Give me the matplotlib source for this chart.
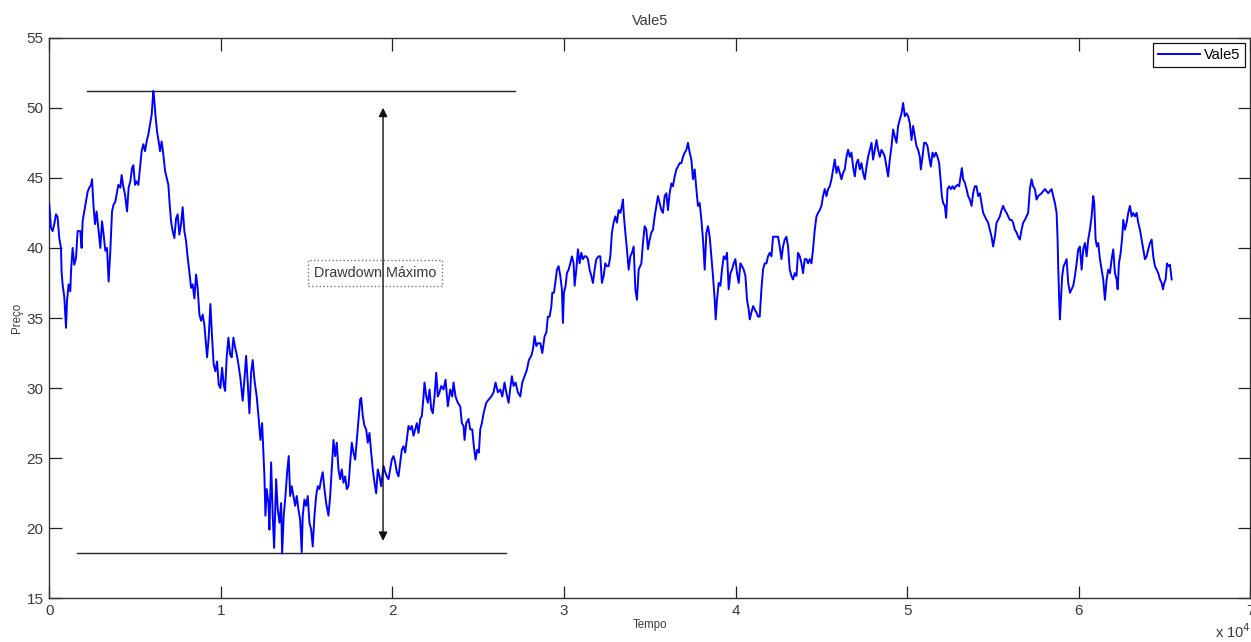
import numpy as np
import matplotlib
matplotlib.use('Agg')
import matplotlib.pyplot as plt

# Dados: preco da Vale5 ao longo do tempo (amostras)
tempo = [
    0, 99, 192, 292, 391, 484, 583, 682, 717, 776, 875, 974, 1032, 1125, 1225, 1265,
    1359, 1458, 1557, 1650, 1808, 1883, 1942, 2041, 2140, 2233, 2332, 2432, 2490, 2583,
    2665, 2758, 2875, 2974, 3073, 3166, 3265, 3364, 3458, 3557, 3656, 3749, 3848, 3948,
    4023, 4140, 4216, 4297, 4414, 4531, 4624, 4723, 4822, 4898, 4997, 5091, 5190, 5289,
    5382, 5481, 5580, 5674, 5773, 5872, 5965, 6023, 6064, 6123, 6198, 6280, 6373, 6455,
    6548, 6647, 6746, 6840, 6939, 7015, 7096, 7190, 7289, 7388, 7481, 7580, 7679, 7773,
    7872, 7971, 8064, 8163, 8262, 8356, 8455, 8554, 8647, 8747, 8846, 8939, 9038, 9137,
    9196, 9289, 9388, 9487, 9580, 9679, 9779, 9872, 9971, 10070, 10163, 10245, 10338,
    10437, 10537, 10630, 10729, 10828, 10922, 11021, 11137, 11271,
    11370, 11470, 11563, 11662, 11761, 11854, 11954, 12088, 12204, 12303, 12403, 12478,
    12537, 12595, 12671, 12770, 12828, 12927, 13020, 13102, 13219, 13312, 13411, 13510,
    13569, 13662, 13761, 13860, 13954, 14035, 14128, 14228, 14327, 14420, 14519, 14618,
    14712, 14770, 14869, 14968, 15062, 15161, 15260, 15353, 15452, 15551, 15645, 15744,
    15843, 15936, 16035, 16134, 16268, 16368, 16484, 16560, 16659, 16752, 16852, 16951,
    17044, 17143, 17242, 17336, 17435, 17534, 17627, 17726, 17826, 17919, 18018, 18117,
    18175, 18269, 18368, 18467, 18560, 18659, 18758, 18852, 18951, 19050, 19143, 19242,
    19342, 19476, 19575, 19668, 19767, 19866, 19960, 20059, 20158, 20251, 20350, 20450,
    20543, 20642, 20741, 20834, 20933, 21033, 21126, 21225, 21324, 21418, 21517, 21616,
    21709, 21808, 21866, 21966, 22059, 22158, 22257, 22350, 22449, 22549, 22642,
    22741, 22840, 22974, 23091, 23225, 23365, 23481, 23557, 23674, 23808, 23948, 24041,
    24140, 24199, 24298, 24432, 24531, 24648, 24741, 24840, 24939, 25033, 25114, 25208,
    25307, 25464, 25616, 25756, 25890, 26006, 26140, 26280, 26397, 26531, 26630, 26764,
    26881, 26957, 27056, 27172, 27307, 27446, 27563, 27697, 27832, 27948, 28088, 28182,
    28280, 28380, 28473, 28613, 28730, 28863, 28963, 29056, 29155, 29254, 29313, 29406,
    29488, 29581, 29680, 29779, 29873, 29932, 29990, 30088, 30164, 30263, 30362, 30456,
    30554, 30613, 30712, 30806, 30904, 31004, 31097, 31196, 31295, 31389, 31487, 31587,
    31680, 31779, 31878, 32012, 32111, 32205, 32304, 32403, 32496, 32595, 32695, 32788,
    32887, 32986, 33079, 33178, 33278, 33371, 33429, 33488, 33569, 33662, 33762, 33861,
    33954, 34053, 34152, 34246, 34345,
    34503, 34596, 34695, 34794, 34887, 34986, 35086, 35179, 35278, 35377, 35470, 35570,
    35669, 35762, 35861, 35960, 36053, 36152, 36252, 36345, 36444, 36543, 36636, 36735,
    36835, 36928, 37027, 37126, 37219, 37318, 37418, 37511, 37610, 37709, 37802, 37902,
    38001, 38094, 38193, 38292, 38385, 38485, 38584, 38677, 38776, 38834, 38910, 39009,
    39108, 39202, 39301, 39400, 39493, 39592, 39692, 39785, 39884, 39983, 40077, 40176,
    40275, 40368, 40467, 40566, 40660, 40759, 40817, 40916, 41015, 41109, 41208, 41301,
    41400, 41499, 41593, 41692, 41791, 41884, 41983, 42083, 42176, 42275, 42374, 42468,
    42566, 42666, 42759, 42858, 42957, 43051, 43150, 43249, 43342, 43441, 43541, 43634,
    43733, 43832, 43925, 44024, 44124, 44217, 44316, 44415, 44508, 44607, 44707, 44800,
    44899, 44998, 45091, 45190, 45290, 45383, 45482, 45581, 45674, 45773, 45873, 45966,
    46164, 46257, 46356, 46455, 46549, 46648, 46747, 46840, 46940, 47039, 47132, 47231,
    47330, 47424, 47523, 47622, 47715, 47814, 47914, 48007, 48106, 48205, 48298, 48397,
    48497, 48590, 48689, 48788, 48881, 48980, 49080, 49173, 49272, 49371, 49464, 49564,
    49663, 49756, 49855, 49954, 50048, 50147, 50246, 50339, 50438, 50537, 50631, 50730,
    50788, 50887, 50980, 51080, 51179, 51272, 51371, 51470, 51564, 51663, 51762, 51855,
    51937, 52013, 52091, 52188, 52264, 52345, 52438, 52537, 52636, 52730, 52829, 52928,
    53021, 53103, 53179, 53254, 53353, 53452, 53545, 53645, 53744, 53837, 53936, 54035,
    54128, 54228, 54327, 54420, 54519, 54618, 54711, 54811, 54910, 55003, 55102, 55201,
    55294, 55394, 55493, 55586, 55685, 55784, 55877, 55977, 56076, 56169, 56268, 56367,
    56460, 56560, 56659, 56752, 56851, 56950, 57043, 57143, 57242, 57335, 57434, 57533,
    57627, 57825, 58018, 58210, 58409, 58502, 58602, 58701, 58759, 58794, 58852, 58893,
    58951, 59027, 59109, 59185, 59284, 59377, 59476, 59575, 59669, 59768, 59867, 59960,
    60059, 60159, 60252, 60351, 60450, 60543, 60642, 60742, 60835, 60893, 60975, 61051,
    61127, 61226, 61325, 61418, 61517, 61616, 61710, 61809, 61908, 62001, 62100, 62199,
    62258, 62334, 62433, 62526, 62584, 62683, 62782, 62876, 62975, 63074, 63167, 63266,
    63365, 63459, 63558, 63657, 63750, 63849, 63948, 64042, 64141, 64240, 64333, 64432,
    64531, 64625, 64724, 64823, 64899, 64975, 65056, 65132, 65208, 65307, 65406,
]

preco = [
    43.1, 41.45, 41.2, 41.7, 42.4, 42.2, 40.7, 40.0, 38.3, 37.4, 36.5, 34.3, 36.2, 37.4, 36.9, 38.3,
    40.0, 38.8, 39.3, 41.2, 41.2, 40.0, 41.9, 42.6, 43.3, 44.0, 44.3, 44.5, 44.9, 42.9,
    41.7, 42.6, 41.2, 40.0, 41.9, 40.95, 39.8, 40.0, 37.6, 39.8, 42.6, 43.1, 43.3, 44.0,
    44.5, 44.3, 45.2, 44.5, 43.8, 42.6, 44.3, 44.75, 45.7, 45.9, 44.5, 44.75, 44.5, 45.7,
    46.9, 47.4, 46.9, 47.6, 48.1, 48.8, 49.5, 50.5, 51.2, 50.5, 49.3, 48.3, 47.6, 46.9,
    47.6, 46.65, 45.5, 45.0, 44.5, 43.1, 41.9, 41.2, 40.7, 42.1, 42.4, 40.95, 41.7, 42.9,
    41.2, 40.5, 39.3, 38.3, 37.15, 37.4, 36.4, 38.1, 37.15, 35.25, 34.8, 35.25, 34.5, 33.1,
    32.2, 33.6, 36.0, 33.6, 31.7, 31.2, 31.9, 30.25, 30.0, 31.45, 30.25, 29.8, 32.2,
    33.6, 32.4, 32.2, 33.6, 32.9, 32.4, 31.7, 30.7, 29.1,
    30.6, 32.3, 30.4, 28.2, 31.1, 32.0, 30.6, 29.4, 27.8, 26.3, 27.5, 25.4,
    23.7, 20.9, 22.8, 21.8, 19.9, 24.7, 20.9, 18.6, 23.5, 21.35, 20.4, 21.8,
    18.2, 20.9, 22.3, 24.0, 25.15, 22.3, 23.0, 22.3, 21.6, 22.3, 21.35, 20.6,
    18.3, 20.9, 22.05, 21.6, 22.3, 20.4, 19.9, 18.7, 20.9, 22.3, 23.0, 22.8,
    23.5, 24.0, 22.8, 21.8, 20.9, 22.3, 24.7, 26.3, 25.15, 26.1, 24.2, 23.5,
    24.2, 23.25, 23.7, 22.8, 23.0, 24.7, 26.1, 25.4, 24.9, 26.3, 27.8, 29.2,
    29.3, 28.0, 27.3, 27.05, 26.1, 26.8, 25.4, 24.2, 23.25, 22.5, 24.2, 23.7,
    23.0, 24.45, 24.0, 23.7, 23.5, 24.2, 24.9, 25.15, 24.7, 24.0, 23.7, 24.7,
    25.6, 25.85, 25.4, 26.3, 27.3, 27.05, 27.3, 26.6, 27.05, 27.5, 26.8, 27.8,
    28.0, 29.4, 30.4, 29.4, 28.95, 29.9, 28.5, 28.2, 29.4, 31.1, 29.4,
    29.7, 30.15, 29.9, 30.6, 28.7, 29.9, 29.4, 30.4, 29.4, 28.95, 28.7, 27.5,
    27.3, 26.3, 27.5, 27.8, 27.05, 27.05, 25.85, 24.9, 25.6, 25.4, 27.05, 27.5,
    28.2, 28.95, 29.2, 29.4, 29.7, 30.4, 29.7, 29.9, 29.4, 30.4, 29.7, 28.95,
    30.15, 30.85, 30.15, 30.4, 29.7, 29.4, 30.4, 30.85, 31.3, 32.0, 32.3, 32.75,
    33.7, 33.0, 33.2, 33.2, 32.5, 33.7, 33.95, 35.1, 35.1, 35.8, 36.8, 36.8,
    37.5, 38.45, 38.7, 38.0, 37.05, 34.65, 36.8, 37.3, 38.2, 38.45, 38.9, 39.4,
    38.9, 37.3, 38.45, 39.9, 38.9, 39.65, 39.2, 39.4, 39.4, 39.2, 38.45, 38.0,
    37.5, 38.45, 39.2, 39.4, 39.4, 37.5, 38.0, 38.9, 38.7, 38.7, 39.4, 41.1,
    41.8, 42.25, 41.8, 42.7, 42.5, 43.0, 43.45, 42.25, 41.1, 39.9, 38.45, 39.4,
    39.65, 40.1, 37.05, 36.3, 38.45,
    38.9, 40.35, 41.55, 41.3, 39.9, 40.6, 41.1, 41.3, 42.25, 43.0, 43.7, 43.2,
    42.7, 42.5, 43.7, 43.9, 42.7, 43.9, 44.6, 44.4, 45.1, 45.6, 45.8, 46.05,
    46.05, 46.5, 46.8, 47.0, 47.5, 46.8, 46.3, 44.9, 45.6, 44.2, 43.0, 43.2,
    42.0, 40.6, 38.45, 41.1, 41.55, 40.8, 39.4, 38.0, 36.3, 34.9, 36.3, 37.5,
    37.3, 38.45, 39.4, 39.2, 39.65, 37.05, 38.2, 38.45, 38.9, 39.2, 38.2, 37.5,
    38.9, 38.7, 38.45, 38.0, 36.3, 35.6, 34.9, 35.4, 35.85, 35.6, 35.4, 35.1,
    35.1, 37.05, 38.45, 38.9, 38.9, 39.4, 39.65, 39.4, 40.8, 40.8, 40.8, 40.8,
    40.1, 39.2, 40.1, 40.6, 40.8, 40.1, 38.45, 38.0, 37.75, 38.2, 38.0, 39.65,
    39.4, 38.9, 38.2, 39.2, 39.2, 38.9, 39.2, 38.9, 39.9, 41.3, 42.25, 42.5,
    42.7, 43.0, 43.7, 44.2, 43.7, 44.2, 44.4, 44.9, 45.6, 46.3, 45.35, 45.8,
    44.9, 45.35, 45.6, 46.5, 47.0, 46.5, 46.8, 45.8, 45.1, 46.05, 46.3, 45.6,
    46.05, 45.35, 44.9, 45.8, 46.5, 47.0, 47.5, 46.3, 47.0, 47.7, 47.0, 46.5,
    47.0, 46.8, 46.5, 45.8, 45.1, 46.3, 47.25, 48.45, 47.95, 47.5, 48.7, 49.15,
    49.6, 50.35, 49.4, 49.6, 49.4, 48.9, 47.7, 48.7, 47.95, 47.25, 47.0, 46.5,
    45.6, 46.5, 47.5, 47.5, 47.25, 46.5, 45.8, 46.8, 46.5, 46.8, 46.5, 46.05,
    44.9, 43.7, 43.2, 43.0, 42.15, 44.2, 44.4, 44.2, 44.4, 44.2, 44.4, 44.5,
    44.4, 45.1, 45.7, 44.9, 44.65, 44.2, 43.7, 43.45, 43.0, 43.9, 44.4, 44.4,
    43.7, 43.9, 43.2, 42.5, 42.25, 42.0, 41.8, 41.3, 40.8, 40.1, 40.8, 41.8,
    42.0, 42.25, 42.7, 43.0, 42.7, 42.5, 42.25, 42.0, 42.0, 41.8, 41.3, 41.1,
    40.8, 40.6, 41.3, 41.8, 42.0, 42.25, 42.5, 44.2, 44.9, 44.4, 44.2, 43.45,
    43.7, 43.9, 44.2, 43.9, 44.2, 43.7, 43.2, 42.5, 40.6, 38.7, 36.3, 34.9,
    36.3, 38.0, 38.7, 38.9, 39.2, 37.5, 36.8, 37.05, 37.3, 38.0, 38.9, 39.9,
    40.1, 38.45, 39.9, 40.35, 39.4, 40.6, 41.3, 42.25, 43.7, 43.2, 40.6, 40.1,
    40.35, 39.2, 38.45, 37.75, 36.3, 37.75, 38.45, 38.2, 39.2, 39.9, 38.2, 37.75,
    37.05, 38.9, 39.65, 40.8, 42.0, 41.3, 41.8, 42.5, 43.0, 42.25, 42.5, 42.25,
    42.5, 41.8, 41.3, 40.6, 39.9, 39.2, 39.4, 39.9, 40.35, 40.6, 39.4, 38.7,
    38.45, 38.2, 37.75, 37.5, 37.05, 37.5, 37.75, 38.9, 38.7, 38.8, 37.75,
]

# Marcacoes do drawdown maximo
linha_topo_x = [2180, 27140]
linha_fundo_x = [1600, 26610]
seta_x = 19450
seta_y = [19.1, 50.0]
texto_pos = (18980, 38.2)

x_ticks = [0, 10000, 20000, 30000, 40000, 50000, 60000, 70000]
x_tick_labels = ['0', '1', '2', '3', '4', '5', '6', '7']
y_ticks = [15, 20, 25, 30, 35, 40, 45, 50, 55]

plt.rcParams['font.family'] = ['Liberation Sans', 'DejaVu Sans']
cor_texto = '#3a3a3a'

fig = plt.figure(figsize=(12.51, 6.42), dpi=100)
ax = fig.add_axes([0.0394, 0.068, 0.9602, 0.8733])

ax.plot(tempo, preco, color='#0000ff', lw=1.4, label='Vale5', zorder=3)

# Linhas horizontais no pico e no fundo
pico = max(preco)
fundo = min(preco)
ax.plot(linha_topo_x, [pico, pico], color='#222222', lw=1.0, zorder=2)
ax.plot(linha_fundo_x, [fundo, fundo], color='#222222', lw=1.0, zorder=2)

# Seta dupla indicando o drawdown
ax.annotate('', xy=(seta_x, seta_y[1]), xytext=(seta_x, seta_y[0]),
            arrowprops=dict(arrowstyle='<|-|>', color='#111111', lw=1.0,
                            mutation_scale=13, shrinkA=0, shrinkB=0), zorder=4)

ax.text(texto_pos[0], texto_pos[1], 'Drawdown Máximo', ha='center', va='center',
        fontsize=10.4, color=cor_texto, zorder=1,
        bbox=dict(boxstyle='square,pad=0.4', fc='none', ec='#777777', ls=':', lw=1.0))

ax.set_xlim(0, 70000)
ax.set_ylim(15, 55)
ax.set_xticks(x_ticks)
ax.set_xticklabels(x_tick_labels)
ax.set_yticks(y_ticks)

ax.tick_params(direction='in', length=9, width=0.9, top=True, right=True,
               labelsize=11, labelcolor=cor_texto, color='#222222', pad=4)
for s in ax.spines.values():
    s.set_color('#333333')
    s.set_linewidth(1.0)

ax.set_title('Vale5', fontsize=10.5, color=cor_texto, pad=9)
ax.set_xlabel('Tempo', fontsize=8.3, color=cor_texto, labelpad=1)
ax.set_ylabel('Preço', fontsize=8.3, color=cor_texto, labelpad=3)

# Fator de escala do eixo x
ax.text(1.0, -0.042, r'x 10$^4$', transform=ax.transAxes, ha='right', va='top',
        fontsize=10.5, color=cor_texto)

leg = ax.legend(loc='upper right', fontsize=10.5, fancybox=False, framealpha=1,
                edgecolor='#111111', handlelength=2.9, handletextpad=0.25,
                borderpad=0.35, borderaxespad=0.35)
leg.get_frame().set_linewidth(0.9)

plt.savefig('out.png', dpi=100)
